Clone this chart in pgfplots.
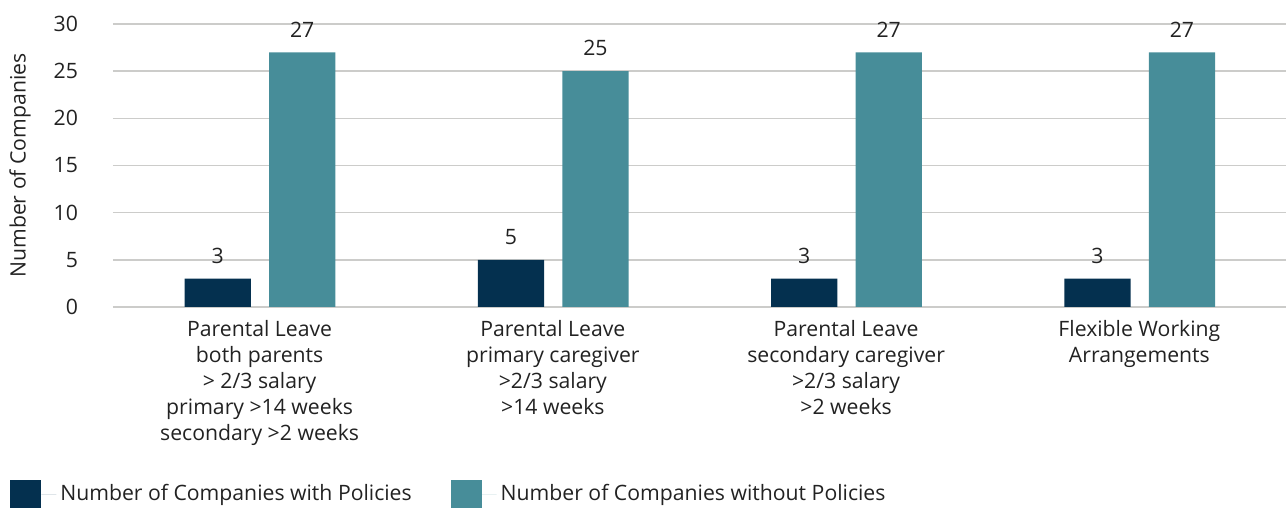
\documentclass[border=0pt]{standalone}
\usepackage{pgfplots}
\pgfplotsset{compat=1.18}
\usepackage{fontspec}
\setmainfont{Open Sans}
\definecolor{navy}{HTML}{04304F}
\definecolor{tealc}{HTML}{478D99}
\definecolor{gridc}{HTML}{CCCCCA}
\definecolor{txt}{HTML}{222222}
\newcommand{\chartfont}{\fontsize{10.6}{13}\selectfont\color{txt}}
\begin{document}
\begin{tikzpicture}
\begin{axis}[
  at={(0,0)}, anchor=south west, scale only axis,
  width=586.5pt, height=141.5pt,
  xmin=-0.5, xmax=3.5, ymin=0, ymax=30,
  ytick={0,5,...,30},
  xtick={0,1,2,3},
  xticklabels={
    {Parental Leave\\both parents\\> 2/3 salary\\primary >14 weeks\\secondary >2 weeks},
    {Parental Leave\\primary caregiver\\>2/3 salary\\>14 weeks},
    {Parental Leave\\secondary caregiver\\>2/3 salary\\>2 weeks},
    {Flexible Working\\Arrangements}},
  xticklabel style={align=center, font=\chartfont, anchor=north, yshift=-3pt},
  yticklabel style={font=\chartfont, anchor=east, xshift=-14pt},
  /pgf/number format/assume math mode=true,
  ylabel={Number of Companies},
  every axis y label/.style={at={(rel axis cs:-0.0793,0.5)}, rotate=90,
    anchor=center, font=\chartfont},
  axis line style={draw=none},
  major tick length=0pt,
  ymajorgrids, grid style={gridc, line width=0.75pt},
  ybar, bar width=0.226,
  nodes near coords,
  nodes near coords style={font=\chartfont, yshift=4pt},
  legend style={at={(rel axis cs:-0.093,-0.661)}, anchor=west, draw=none,
    fill=none, font=\chartfont, legend columns=2,
    /tikz/every even column/.append style={column sep=17.5pt}},
  legend image code/.code={\fill[#1] (0pt,-7pt) rectangle (15.5pt,7pt);
    \path (15.5pt,0pt) -- (23pt,0pt);},
]
\addplot[fill=navy, draw=none, bar shift=-0.143]
  coordinates {(0,3) (1,5) (2,3) (3,3)};
\addplot[fill=tealc, draw=none, bar shift=0.145]
  coordinates {(0,27) (1,25) (2,27) (3,27)};
\legend{Number of Companies with Policies, Number of Companies without Policies}
\end{axis}
\pgfresetboundingbox
\path (-56.5pt,-100.5pt) rectangle (586.5pt,153.5pt);
\end{tikzpicture}
\end{document}
